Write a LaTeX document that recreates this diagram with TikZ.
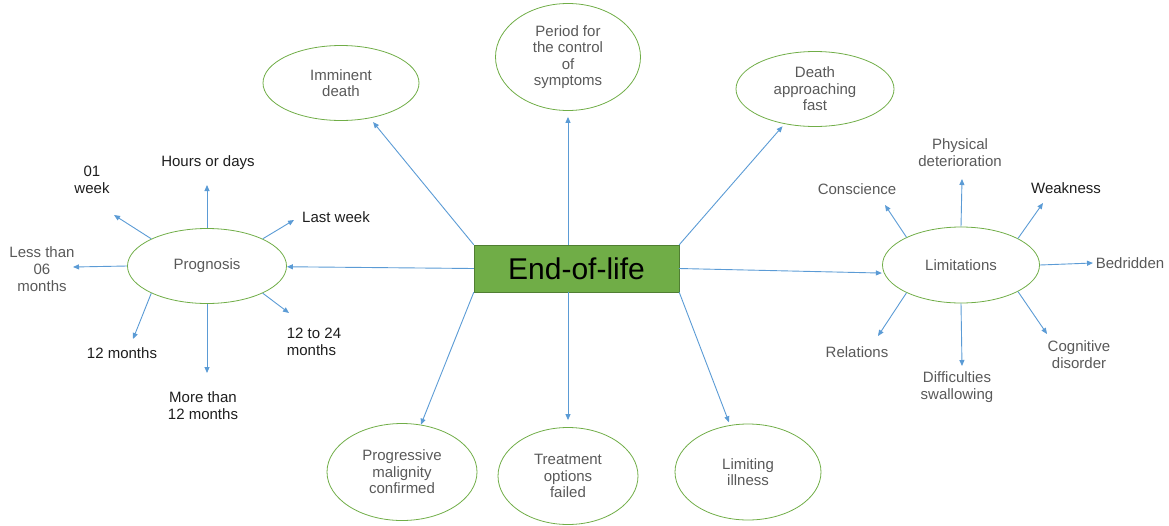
\documentclass[tikz,border=0pt]{standalone}
\usepackage{fontspec}
\setmainfont{Liberation Sans}
\usepackage{tikz}
\usetikzlibrary{shapes.geometric}
\usetikzlibrary{arrows.meta}
\definecolor{spokeblue}{HTML}{5B9BD5}
\definecolor{leafgreen}{HTML}{70AD47}
\definecolor{boxedge}{HTML}{507E32}
\definecolor{txtgray}{HTML}{595959}
\definecolor{txtdark}{HTML}{1E1E1E}

\begin{document}
\begin{tikzpicture}[x=1pt,y=-1pt,
	bubble/.style={draw=leafgreen,line width=0.8pt,ellipse,inner sep=0pt,
	align=center,text=txtgray,font=\fontsize{15}{16.5}\selectfont},
	lbl/.style={align=center,inner sep=0pt,text=txtdark,font=\fontsize{15}{17}\selectfont},
	arr/.style={draw=spokeblue,line width=0.9pt,-{Triangle[length=6pt,width=5pt]}}]
\useasboundingbox (0,0) rectangle (1169,525);
\node [draw=boxedge,fill=leafgreen,minimum width=205pt,minimum height=47pt,inner sep=0pt,
	font=\fontsize{30}{32}\selectfont] (eol) at (576.5,268.5) {End-of-life};
\node [bubble,minimum width=156pt,minimum height=75pt] (imm) at (341,83) {Imminent\\death};
\node [bubble,minimum width=145pt,minimum height=107pt] (per) at (568,57) {Period for\\the control\\of\\symptoms};
\node [bubble,minimum width=158pt,minimum height=75pt] (dth) at (815,89) {Death\\approaching\\fast};
\node [bubble,minimum width=159pt,minimum height=75pt] (prog) at (207,266) {Prognosis};
\node [bubble,minimum width=157pt,minimum height=76pt] (lim) at (961,265) {Limitations};
\node [bubble,minimum width=150pt,minimum height=97pt] (prg) at (402,472) {Progressive\\malignity\\confirmed};
\node [bubble,minimum width=140pt,minimum height=97pt] (treat) at (568,476) {Treatment\\options\\failed};
\node [bubble,minimum width=146pt,minimum height=96pt] (lmt) at (748,472) {Limiting\\illness};
\node [lbl] (hrs) at (208,163) {Hours or days};
\node [lbl] (lastwk) at (336,217) {Last week};
\node [lbl] (wk01) at (92,180) {01\\week};
\node [lbl,text=txtgray] (less) at (42,269) {Less than\\06\\months};
\node [lbl] (m12) at (122,353) {12 months};
\node [lbl] (more) at (203,406) {More than\\12 months};
\node [lbl,align=left] (m1224) at (314,342) {12 to 24\\months};
\node [lbl,text=txtgray] (consc) at (857,189) {Conscience};
\node [lbl,text=txtgray] (phys) at (960,153) {Physical\\deterioration};
\node [lbl] (weak) at (1066,188) {Weakness};
\node [lbl,text=txtgray] (bed) at (1130,263) {Bedridden};
\node [lbl,text=txtgray] (cogn) at (1079,355) {Cognitive\\disorder};
\node [lbl,text=txtgray] (diff) at (957,387) {Difficulties\\swallowing};
\node [lbl,text=txtgray] (rel) at (857,352) {Relations};
\coordinate (hrs-end) at (207,185);
\coordinate (lastwk-end) at (294,220);
\coordinate (wk01-end) at (114,215);
\coordinate (less-end) at (73,267);
\coordinate (m12-end) at (133,339);
\coordinate (more-end) at (207,373);
\coordinate (m1224-end) at (289,313);
\coordinate (consc-end) at (885,205);
\coordinate (phys-end) at (962,179);
\coordinate (weak-end) at (1043,203);
\coordinate (bed-end) at (1093,263);
\coordinate (cogn-end) at (1047,334);
\coordinate (diff-end) at (962,366);
\coordinate (rel-end) at (878,336);
\draw [arr,shorten >=5pt] (eol.north west)--(imm);
\draw [arr,shorten >=6pt] (eol.north -| per)--(per);
\draw [arr,shorten >=3pt] (eol.north east)--(dth);
\draw [arr] (eol.west)--(prog);
\draw [arr,shorten >=2pt] (eol.east)--(lim.186);
\draw [arr] (eol.south west)--(prg);
\draw [arr,shorten >=7pt] (eol.south -| treat)--(treat);
\draw [arr,shorten >=3pt] (eol.south east)--(lmt);
\draw [arr] (prog.90)--(hrs-end);
\draw [arr] (prog.26)--(lastwk-end);
\draw [arr] (prog.154)--(wk01-end);
\draw [arr] (prog.180)--(less-end);
\draw [arr] (prog.206)--(m12-end);
\draw [arr] (prog.270)--(more-end);
\draw [arr] (prog.334)--(m1224-end);
\draw [arr] (lim.153)--(consc-end);
\draw [arr] (lim.90)--(phys-end);
\draw [arr] (lim.25)--(weak-end);
\draw [arr] (lim.0)--(bed-end);
\draw [arr] (lim.335)--(cogn-end);
\draw [arr] (lim.270)--(diff-end);
\draw [arr] (lim.207)--(rel-end);
\end{tikzpicture}
\end{document}
